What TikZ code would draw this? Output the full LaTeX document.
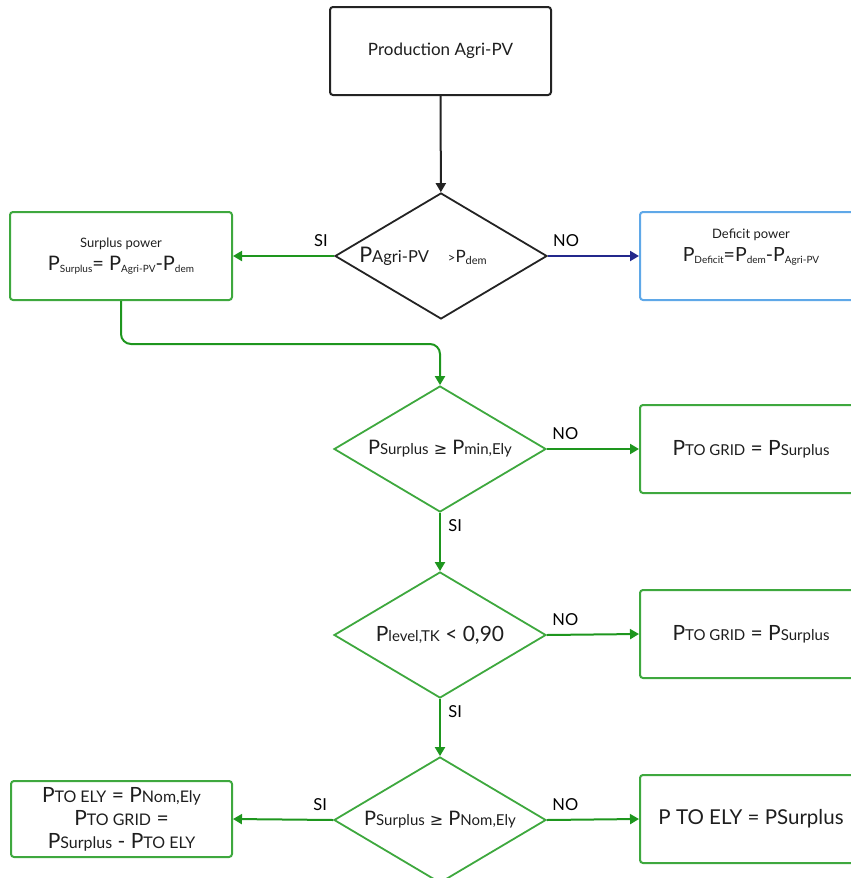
\documentclass[tikz,border=0pt]{standalone}
\usepackage{fontspec}
\setmainfont{Lato}
\newfontfamily\symfont{DejaVu Sans}
\usepackage{tikz}
\usetikzlibrary{positioning,arrows.meta,shapes.geometric}
\usepackage{xcolor}

\definecolor{boxgray}{RGB}{35,35,35}
\definecolor{boxgreen}{RGB}{62,168,62}
\definecolor{argreen}{RGB}{30,150,30}
\definecolor{boxblue}{RGB}{95,168,232}
\definecolor{arnavy}{RGB}{35,40,140}
\definecolor{txtgray}{RGB}{30,30,30}

\newcommand{\fsz}[1]{\fontsize{#1}{#1}\selectfont}
\newcommand{\Pb}[2][15]{P{\fsz{#1}#2}}                 % small text on the baseline
\newcommand{\Ps}[1]{P\raisebox{-2pt}{\fsz{10}#1}}  % lowered index
\newcommand{\geqs}{{\symfont\fsz{16}≥}}

\begin{document}
\begin{tikzpicture}[x=1pt, y=-1pt, >={Triangle[length=9pt,width=10pt]},
    every node/.style={text=txtgray},
    flowbox/.style={draw, rounded corners=3pt, line width=2pt, minimum width=222pt,
        minimum height=88pt, inner sep=0pt, align=center},
    decision/.style={draw, diamond, aspect=1.68, line width=1.8pt, minimum width=212pt,
        minimum height=126pt, inner sep=0pt},
    flow/.style={->, line width=2pt, argreen},
    tag/.style={font=\fsz{16.5}, text=black}]
    \useasboundingbox (0,0) rectangle (851,878);
    \clip (0,0) rectangle (851,878);

    % Production and first test
    \node[flowbox, draw=boxgray, minimum width=221pt, font=\fsz{17}] (prod) at (440.5,51) {Production Agri-PV};
    \node[decision, draw=boxgray] (cmpdem) at (441,256)
        {{\fsz{21.5}P}{\fsz{16.5}Agri-PV}\hspace{19pt}{\fsz{13}>}{\fsz{17}P}\raisebox{-2pt}{\fsz{11}dem}\hspace*{36pt}};

    % Surplus / deficit boxes
    \node[flowbox, draw=boxgreen, font=\fsz{20}] (surplus) at (121,256)
        {{\fsz{13}Surplus power}\\[3pt]\Ps{Surplus}= \Ps{Agri-PV}-\Ps{dem}};
    \node[flowbox, draw=boxblue, anchor=west, font=\fsz{19.5}] (deficit) at (639,256)
        {{\fsz{13}Deficit power}\\[3pt]\Ps{Deficit}=\Ps{dem}-\Ps{Agri-PV}\\[2pt]~};

    % Chain of tests
    \node[decision, draw=boxgreen] (cmpmin) at (440,449)
        {{\fsz{20}\Pb{Surplus} \geqs{} \Pb{min,Ely}}};
    \node[decision, draw=boxgreen] (cmplevel) at (440,635)
        {{\fsz{21}\Pb{level,TK} < 0,90}};
    \node[decision, draw=boxgreen] (cmpnom) at (440,820)
        {{\fsz{20}\Pb{Surplus} \geqs{} \Pb{Nom,Ely}}};

    % Results
    \node[flowbox, draw=boxgreen, anchor=west, font=\fsz{21}] (gridA) at (639,449)
        {\Pb{TO GRID} = \Pb{Surplus}};
    \node[flowbox, draw=boxgreen, anchor=west, font=\fsz{21}] (gridB) at (639,634)
        {\Pb{TO GRID} = \Pb{Surplus}};
    \node[flowbox, draw=boxgreen, minimum width=221pt, minimum height=76pt, font=\fsz{21}] (elymax) at (121.5,819)
        {\Pb[16]{TO ELY} = \Pb[16]{Nom,Ely}\\[2pt]\Pb[16]{TO GRID} =\\[2pt]\Pb[16]{Surplus} - \Pb[16]{TO ELY}};
    \node[flowbox, draw=boxgreen, anchor=west, font=\fsz{20.5}] (elysur) at (639,819)
        {P TO ELY = PSurplus};

    % Connectors
    \draw[->, line width=2pt, boxgray] (prod) -- (cmpdem);
    \draw[flow] (cmpdem.west) -- node[tag, pos=0.13, above=5pt] {SI} (surplus.east);
    \draw[->, line width=2pt, arnavy] (cmpdem.east) -- node[tag, pos=0.2, above=5pt] {NO} (deficit.west);
    \draw[flow, rounded corners=10pt] (surplus.south) -- ++(0,43) -| (cmpmin.north);
    \draw[flow] (cmpmin.east) -- node[tag, pos=0.2, above=5pt] {NO} (gridA.west);
    \draw[flow] (cmpmin.south) -- node[tag, pos=0.22, right=4pt] {SI} (cmplevel.north);
    \draw[flow] (cmplevel.east) -- node[tag, pos=0.2, above=5pt] {NO} (gridB.west);
    \draw[flow] (cmplevel.south) -- node[tag, pos=0.22, right=4pt] {SI} (cmpnom.north);
    \draw[flow] (cmpnom.west) -- node[tag, pos=0.13, above=5pt] {SI} (elymax.east);
    \draw[flow] (cmpnom.east) -- node[tag, pos=0.2, above=5pt] {NO} (elysur.west);
\end{tikzpicture}
\end{document}
